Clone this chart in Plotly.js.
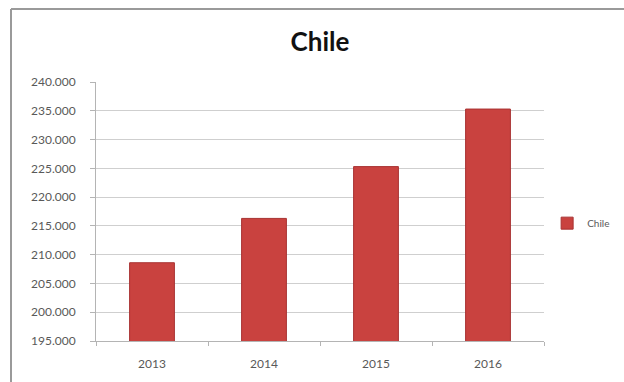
<!DOCTYPE html>
<html>
<head>
<meta charset="utf-8">
<script src="https://cdn.plot.ly/plotly-3.0.1.min.js"></script>
<style>
html,body{margin:0;padding:0;background:#fff;}
#chart{width:624px;height:382px;}
</style>
</head>
<body>
<div id="chart"></div>
<script>
const years = ['2013', '2014', '2015', '2016'];
const values = [208600, 216300, 225300, 235300];
const seriesName = 'Chile';
const yTicks = [195000, 200000, 205000, 210000, 215000, 220000, 225000, 230000, 235000, 240000];

const trace = {
  type: 'bar',
  x: years,
  y: values,
  name: seriesName,
  marker: {color: '#c9423f', line: {color: '#a83232', width: 1}},
  showlegend: true,
  hoverinfo: 'x+y'
};

const layout = {
  width: 624,
  height: 382,
  margin: {l: 96, r: 80, t: 82, b: 41, autoexpand: false},
  paper_bgcolor: '#ffffff',
  plot_bgcolor: '#ffffff',
  separators: ',.',
  font: {family: 'Lato, "Open Sans", sans-serif', size: 12, color: '#595959'},
  title: {
    text: '<b>Chile</b>',
    font: {family: 'Lato, "Open Sans", sans-serif', size: 26, color: '#111111'},
    x: 0.5, xref: 'paper', xanchor: 'center',
    y: 1 - 42 / 382, yref: 'container', yanchor: 'middle'
  },
  bargap: 0.6,
  xaxis: {
    type: 'category',
    showline: true, linecolor: '#b4b4b4', linewidth: 1,
    ticks: 'outside', tickson: 'boundaries', ticklen: 4, tickcolor: '#b4b4b4',
    ticklabelstandoff: 12,
    showgrid: false,
    tickfont: {size: 12, color: '#595959'},
    fixedrange: true
  },
  yaxis: {
    range: [195000, 240000],
    tickvals: yTicks,
    tickformat: ',d',
    showline: true, linecolor: '#b4b4b4', linewidth: 1,
    ticks: 'outside', ticklen: 5, tickcolor: '#b4b4b4',
    ticklabelstandoff: 12,
    showgrid: true, gridcolor: '#cfcfcf', gridwidth: 1,
    zeroline: false,
    tickfont: {size: 12, color: '#595959'},
    fixedrange: true
  },
  legend: {
    x: 1.007, xanchor: 'left', y: 0.455, yanchor: 'middle',
    font: {size: 10, color: '#595959'},
    bgcolor: 'rgba(0,0,0,0)',
    itemwidth: 30
  },
  shapes: [
    {type: 'line', xref: 'paper', yref: 'paper',
     x0: (11 - 96) / 448, x1: 1.2, y0: (341 - 9) / 259, y1: (341 - 9) / 259,
     line: {color: '#9a9a9a', width: 2}},
    {type: 'line', xref: 'paper', yref: 'paper',
     x0: (11 - 96) / 448, x1: (11 - 96) / 448, y0: (341 - 9) / 259, y1: -0.2,
     line: {color: '#9a9a9a', width: 2}}
  ]
};

Plotly.newPlot('chart', [trace], layout, {displayModeBar: false, staticPlot: true});
</script>
</body>
</html>
